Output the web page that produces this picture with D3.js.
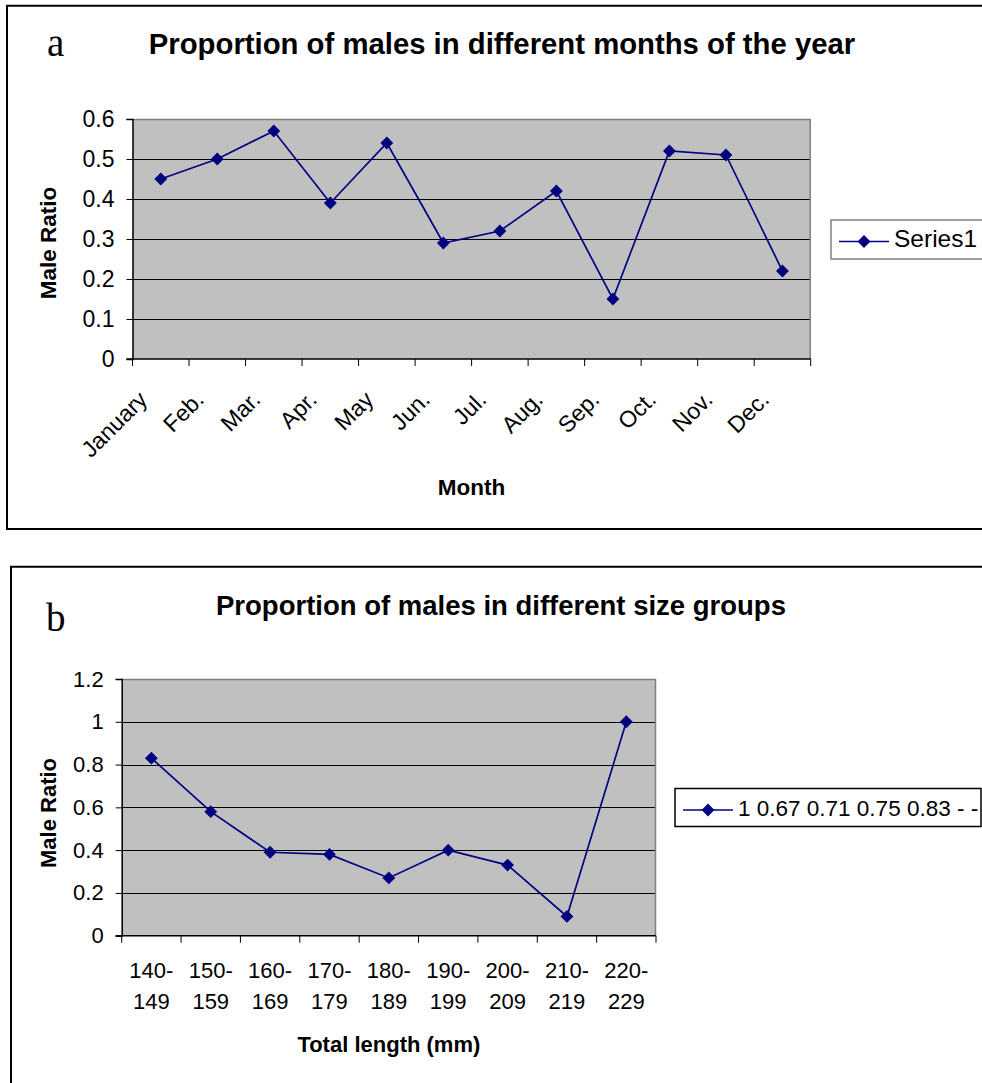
<!DOCTYPE html>
<html>
<head>
<meta charset="utf-8">
<script src="https://cdn.jsdelivr.net/npm/d3@7"></script>
<style>
  html, body { margin: 0; padding: 0; background: #fff; }
  svg { display: block; }
  text { font-family: "Liberation Sans", Arial, sans-serif; fill: #000; }
</style>
</head>
<body>
<svg id="chart" width="982" height="1083"></svg>
<script>
// ---------- data ----------
const months = ["January", "Feb.", "Mar.", "Apr.", "May", "Jun.", "Jul.", "Aug.", "Sep.", "Oct.", "Nov.", "Dec."];
const monthRatio = [0.45, 0.50, 0.57, 0.39, 0.54, 0.29, 0.32, 0.42, 0.15, 0.52, 0.51, 0.22];
const yTicksA = [0, 0.1, 0.2, 0.3, 0.4, 0.5, 0.6];

const sizeGroups = ["140-149", "150-159", "160-169", "170-179", "180-189", "190-199", "200-209", "210-219", "220-229"];
const sizeRatio = [0.83, 0.58, 0.39, 0.38, 0.27, 0.40, 0.33, 0.09, 1.00];
const yTicksB = [0, 0.2, 0.4, 0.6, 0.8, 1.0, 1.2];

const titleA = "Proportion of males in different months of the year";
const titleB = "Proportion of males in different size groups";
const legendA = "Series1";
const legendB = "1 0.67 0.71 0.75 0.83 - -";

// ---------- drawing ----------
const svg = d3.select("#chart");
const navy = "#000080";
const fmt = v => String(+v.toFixed(1));
const diamond = d3.symbol().type(d3.symbolDiamond2 || d3.symbolDiamond).size(105);

function drawPanel(o) {
  const g = svg.append("g");
  g.append("path")
    .attr("d", o.framePath)
    .attr("fill", "none").attr("stroke", "#000").attr("stroke-width", 2);

  const x = d3.scaleBand().domain(o.cats).range([o.L, o.R]).padding(0);
  const y = d3.scaleLinear().domain([0, o.ymax]).range([o.B, o.T]);

  g.append("rect").attr("x", o.L).attr("y", o.T)
    .attr("width", o.R - o.L).attr("height", o.B - o.T)
    .attr("fill", "#c0c0c0");
  g.selectAll(".grid").data(o.yTicks.filter(v => v > 0 && v < o.ymax)).join("line")
    .attr("x1", o.L).attr("x2", o.R)
    .attr("y1", d => Math.round(y(d)) + 0.5).attr("y2", d => Math.round(y(d)) + 0.5)
    .attr("stroke", "#000").attr("stroke-width", 1);
  g.append("path")
    .attr("d", `M${o.L},${o.T + 0.5}H${o.R - 0.5}V${o.B}`)
    .attr("fill", "none").attr("stroke", "#808080").attr("stroke-width", 1.5);

  const ya = d3.axisLeft(y).tickValues(o.yTicks).tickFormat(fmt).tickSize(6).tickPadding(o.yPad);
  const yg = g.append("g").attr("transform", `translate(${o.L},0)`).call(ya);
  yg.select(".domain").attr("stroke", "#000").attr("stroke-width", 1.5);
  yg.selectAll(".tick line").attr("stroke", "#000");
  yg.selectAll(".tick text").attr("font-size", o.tickFs).attr("font-family", "Liberation Sans, Arial, sans-serif").attr("fill", "#000");

  g.append("line").attr("x1", o.L - 6).attr("x2", o.R).attr("y1", o.B).attr("y2", o.B)
    .attr("stroke", "#000").attr("stroke-width", 1.5);
  const bounds = o.cats.map(c => x(c)).concat([x.range()[1]]);
  g.selectAll(".xt").data(bounds).join("line")
    .attr("x1", d => d).attr("x2", d => d)
    .attr("y1", o.B).attr("y2", o.B + 7)
    .attr("stroke", "#000").attr("stroke-width", 1);

  const cx = c => x(c) + x.bandwidth() / 2;
  if (o.rotate) {
    g.selectAll(".xl").data(o.cats).join("text")
      .attr("transform", d => `translate(${cx(d) - 12},${o.B + 42}) rotate(-45)`)
      .attr("text-anchor", "end").attr("font-size", o.xFs)
      .text(d => d);
  } else {
    const xl = g.selectAll(".xl").data(o.cats).join("text")
      .attr("text-anchor", "middle").attr("font-size", o.xFs);
    xl.append("tspan").attr("x", d => cx(d)).attr("y", o.B + 42).text(d => d.split("-")[0] + "-");
    xl.append("tspan").attr("x", d => cx(d)).attr("y", o.B + 73).text(d => d.split("-")[1]);
  }

  const line = d3.line().x((d, i) => cx(o.cats[i])).y(d => y(d));
  g.append("path").datum(o.values).attr("d", line)
    .attr("fill", "none").attr("stroke", navy).attr("stroke-width", 1.7);
  g.selectAll(".pt").data(o.values).join("path")
    .attr("transform", (d, i) => `translate(${cx(o.cats[i])},${y(d)})`)
    .attr("d", diamond).attr("fill", navy);

  g.append("text").attr("x", o.titleX).attr("y", o.titleY).attr("text-anchor", "middle")
    .attr("font-size", o.titleFs).attr("font-weight", "bold").text(o.title);
  g.append("text").attr("x", o.letterX).attr("y", o.letterY)
    .style("font-family", "'Liberation Serif', 'Times New Roman', serif")
    .attr("font-size", 39).text(o.letter);
  g.append("text").attr("x", (o.L + o.R) / 2).attr("y", o.xTitleY).attr("text-anchor", "middle")
    .attr("font-size", o.axisFs).attr("font-weight", "bold").text(o.xTitle);
  g.append("text").attr("transform", `translate(56,${o.yTitleY}) rotate(-90)`).attr("text-anchor", "middle")
    .attr("font-size", o.axisFs).attr("font-weight", "bold").text("Male Ratio");

  const lg = o.legend;
  g.append("rect").attr("x", lg.x).attr("y", lg.y).attr("width", lg.w).attr("height", lg.h)
    .attr("fill", "#fff").attr("stroke", lg.stroke).attr("stroke-width", 1.5);
  g.append("line").attr("x1", lg.x + 8).attr("x2", lg.x + 58)
    .attr("y1", lg.ly).attr("y2", lg.ly).attr("stroke", navy).attr("stroke-width", 1.7);
  g.append("path").attr("transform", `translate(${lg.x + 33},${lg.ly})`).attr("d", diamond).attr("fill", navy);
  g.append("text").attr("x", lg.x + 63).attr("y", lg.ty).attr("font-size", lg.fs).text(lg.text);
}

drawPanel({
  framePath: "M990,5.7H7V529H990",
  cats: months, values: monthRatio, yTicks: yTicksA, ymax: 0.6,
  L: 132.5, R: 810.7, T: 119, B: 359,
  tickFs: 23, xFs: 23, yPad: 12, rotate: true,
  title: titleA, titleX: 502, titleY: 54, titleFs: 29.3,
  letter: "a", letterX: 47, letterY: 56,
  xTitle: "Month", xTitleY: 495, yTitleY: 243, axisFs: 22.5,
  legend: { x: 831, y: 220, w: 170, h: 39, ly: 241.5, ty: 247, fs: 24.5, text: legendA, stroke: "#808080" }
});

drawPanel({
  framePath: "M990,566.7H11V1090",
  cats: sizeGroups, values: sizeRatio, yTicks: yTicksB, ymax: 1.2,
  L: 121.7, R: 656, T: 679, B: 935.7,
  tickFs: 22, xFs: 22, yPad: 12, rotate: false,
  title: titleB, titleX: 501, titleY: 615, titleFs: 27.5,
  letter: "b", letterX: 46, letterY: 631,
  xTitle: "Total length (mm)", xTitleY: 1052, yTitleY: 813, axisFs: 22,
  legend: { x: 675, y: 788.5, w: 306, h: 38, ly: 810, ty: 815.5, fs: 22.5, text: legendB, stroke: "#000" }
});
</script>
</body>
</html>
